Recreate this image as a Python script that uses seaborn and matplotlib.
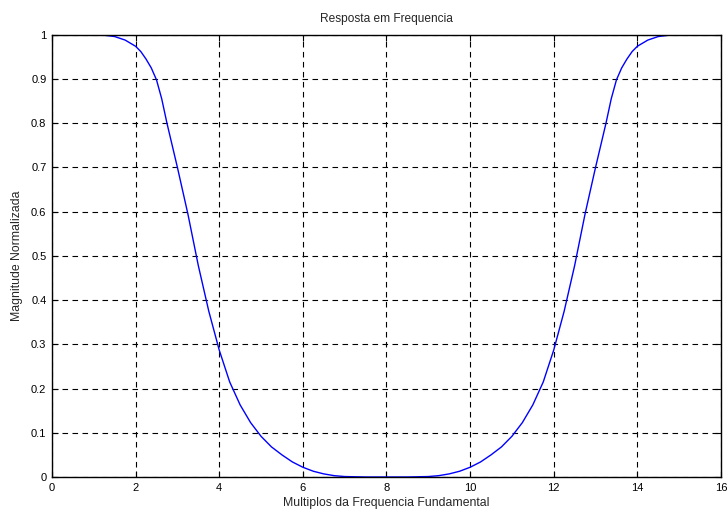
import matplotlib
matplotlib.use("Agg")
import matplotlib.pyplot as plt
import pandas as pd
import seaborn as sns

# Harmonic multiples and normalized magnitude of the filter response
multiplos = [0.0, 0.5, 1.0, 1.25, 1.5, 1.75, 2.0, 2.125, 2.25, 2.375, 2.5, 2.625,
             2.75, 3.0, 3.25, 3.5, 3.75, 4.0, 4.25, 4.5, 4.75, 5.0, 5.25, 5.5,
             5.75, 6.0, 6.25, 6.5, 6.75, 7.0, 7.5, 8.0,
             8.5, 9.0, 9.25, 9.5, 9.75, 10.0, 10.25, 10.5, 10.75, 11.0, 11.25,
             11.5, 11.75, 12.0, 12.25, 12.5, 12.75, 13.0, 13.25, 13.375, 13.5,
             13.625, 13.75, 13.875, 14.0, 14.25, 14.5, 14.75, 15.0, 15.5, 16.0]
magnitude = [1.0, 1.0, 1.0, 0.999, 0.996, 0.988, 0.974, 0.962, 0.945, 0.925,
             0.898, 0.855, 0.80, 0.70, 0.595, 0.478, 0.375, 0.287, 0.215, 0.163,
             0.123, 0.092, 0.068, 0.05, 0.034, 0.022, 0.013, 0.007, 0.003,
             0.001, 0.0, 0.0,
             0.0, 0.001, 0.003, 0.007, 0.013, 0.022, 0.034, 0.05, 0.068, 0.092,
             0.123, 0.163, 0.215, 0.287, 0.375, 0.478, 0.595, 0.70, 0.80, 0.855,
             0.898, 0.925, 0.945, 0.962, 0.974, 0.988, 0.996, 0.999, 1.0, 1.0,
             1.0]

xticks = [0, 2, 4, 6, 8, 10, 12, 14, 16]
yticks = [0, 0.1, 0.2, 0.3, 0.4, 0.5, 0.6, 0.7, 0.8, 0.9, 1]
ytick_labels = ["0", "0.1", "0.2", "0.3", "0.4", "0.5", "0.6", "0.7", "0.8", "0.9", "1"]

sns.set_style("white")
plt.rcParams["font.family"] = ["Liberation Sans", "DejaVu Sans"]

df = pd.DataFrame({"x": multiplos, "y": magnitude})

fig = plt.figure(figsize=(7.27, 5.16), dpi=100)
ax = fig.add_axes([0.0715, 0.0756, 0.9202, 0.857])

sns.lineplot(data=df, x="x", y="y", ax=ax, color="#0000ff", linewidth=1.0)

ax.set_xlim(0, 16)
ax.set_ylim(0, 1)
ax.set_xticks(xticks)
ax.set_yticks(yticks)
ax.set_yticklabels(ytick_labels)
ax.tick_params(direction="in", length=4, width=0.8, labelsize=8, colors="black",
               top=True, right=True, bottom=True, left=True, pad=4)

ax.grid(True, color="black", linestyle=(0, (5, 4)), linewidth=0.8)
for s in ax.spines.values():
    s.set_visible(True)
    s.set_color("black")
    s.set_linewidth(1.0)

ax.set_title("Resposta em Frequencia", fontsize=8.6, pad=9)
ax.set_xlabel("Multiplos da Frequencia Fundamental", fontsize=8.8, labelpad=3)
ax.set_ylabel("Magnitude Normalizada", fontsize=8.8, labelpad=6)

fig.savefig("out.png", dpi=100, facecolor="white")
